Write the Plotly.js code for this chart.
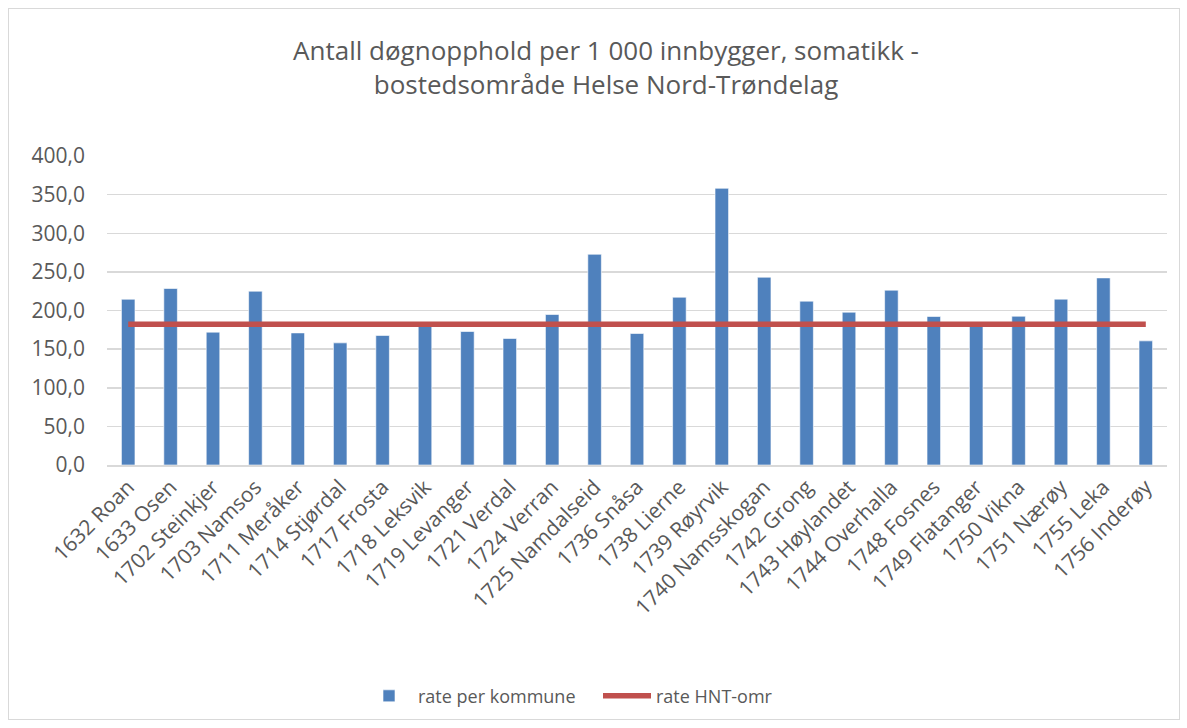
<!DOCTYPE html>
<html>
<head>
<meta charset="utf-8">
<script src="https://cdn.plot.ly/plotly-3.0.1.min.js"></script>
<style>
  html, body { margin: 0; padding: 0; background: #fff; }
  #frame { position: absolute; left: 8px; top: 8px; width: 1172px; height: 712px; border: 1px solid #d9d9d9; box-sizing: border-box; pointer-events: none; z-index: 5; }
  #chart { position: absolute; left: 0; top: 0; width: 1187px; height: 728px; }
</style>
</head>
<body>
<div id="chart"></div>
<div id="frame"></div>
<script>
const kommuner = ["1632 Roan","1633 Osen","1702 Steinkjer","1703 Namsos","1711 Meråker","1714 Stjørdal","1717 Frosta","1718 Leksvik","1719 Levanger","1721 Verdal","1724 Verran","1725 Namdalseid","1736 Snåsa","1738 Lierne","1739 Røyrvik","1740 Namsskogan","1742 Grong","1743 Høylandet","1744 Overhalla","1748 Fosnes","1749 Flatanger","1750 Vikna","1751 Nærøy","1755 Leka","1756 Inderøy"];
const ratePerKommune = [214.6,228.5,172.0,225.0,171.0,158.1,167.7,181.0,172.8,163.8,194.8,272.8,170.2,217.2,358.2,243.1,212.1,197.8,226.3,192.2,183.0,192.6,214.7,242.2,160.7];
const rateHNT = kommuner.map(() => 182.3);
const yTicks = [0,50,100,150,200,250,300,350,400];
const yTickText = ["0,0","50,0","100,0","150,0","200,0","250,0","300,0","350,0","400,0"];

const FONT = "'Open Sans', 'Noto Sans', sans-serif";
const GREY = "#595959";

const traces = [
  {
    type: "bar",
    name: "rate per kommune",
    x: kommuner,
    y: ratePerKommune,
    marker: { color: "#4f81bd", line: { color: "rgba(255,255,255,0.6)", width: 1 } }
  },
  {
    type: "scatter",
    mode: "lines",
    name: "rate HNT-omr",
    x: kommuner,
    y: rateHNT,
    line: { color: "#c0504d", width: 5.5 }
  }
];

const layout = {
  width: 1187,
  height: 728,
  margin: { l: 107, r: 20, t: 156, b: 263 },
  paper_bgcolor: "#ffffff",
  plot_bgcolor: "#ffffff",
  font: { family: FONT, color: GREY, size: 20 },
  title: {
    text: "Antall døgnopphold per 1 000 innbygger, somatikk -<br>bostedsområde Helse Nord-Trøndelag",
    font: { family: FONT, size: 26, color: GREY },
    x: 606 / 1187, xanchor: "center", xref: "container",
    y: 1 - 60/728, yanchor: "middle"
  },
  bargap: 0.68,
  showlegend: true,
  legend: {
    orientation: "h",
    x: (360 - 107) / 1060, xanchor: "left",
    y: -0.748, yanchor: "middle",
    font: { family: FONT, size: 18, color: GREY },
    traceorder: "normal",
    itemwidth: 48,
    entrywidth: 175,
    entrywidthmode: "pixels"
  },
  xaxis: {
    type: "category",
    tickangle: -45,
    tickfont: { family: FONT, size: 21, color: GREY },
    showline: true,
    linecolor: "#d9d9d9",
    linewidth: 1.5,
    ticks: "",
    showgrid: false,
    automargin: false
  },
  yaxis: {
    range: [0, 400],
    tickvals: yTicks,
    ticktext: yTickText,
    tickfont: { family: FONT, size: 21, color: GREY },
    ticklabelstandoff: 21,
    showgrid: true,
    gridcolor: "#d9d9d9",
    gridwidth: 1.5,
    zeroline: false,
    showline: false,
    ticks: "",
    ticklen: 0,
    automargin: false
  }
};

Plotly.newPlot("chart", traces, layout, { displayModeBar: false, staticPlot: true });
</script>
</body>
</html>
